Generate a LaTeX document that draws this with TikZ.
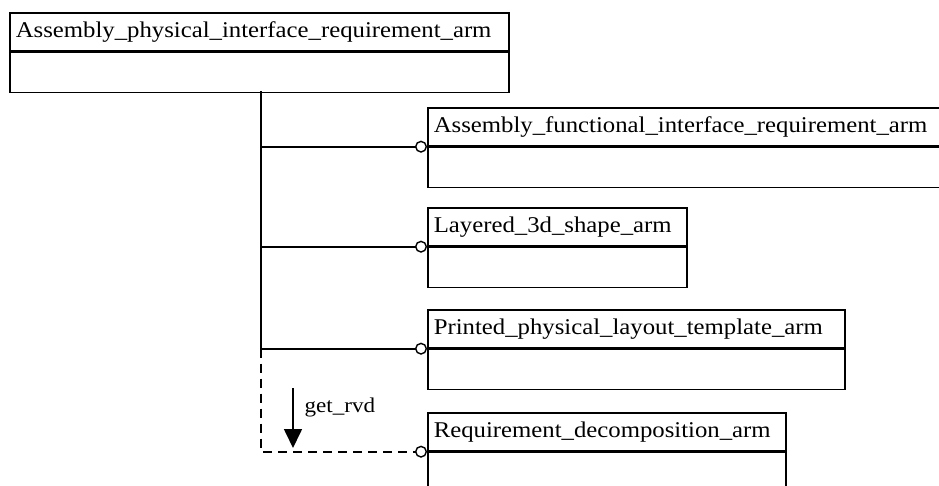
\documentclass[tikz,border=0pt]{standalone}
\usepackage{fontspec}
\setmainfont{Liberation Serif}[FakeStretch=1.1]
\usetikzlibrary{positioning,arrows.meta}

\begin{document}
\begin{tikzpicture}[
  x=1pt, y=-1pt,
  font=\fontsize{22.5}{26}\selectfont,
  head/.style={draw, line width=1.7pt, anchor=north west, align=left,
    minimum width=#1, text width=#1-12pt, inner xsep=6pt, inner ysep=2pt,
    minimum height=38pt},
  body/.style={draw, line width=1.7pt, minimum width=#1, minimum height=40pt,
    inner sep=0pt},
  link/.style={line width=1.7pt, -{Circle[open, length=12pt, width=12pt, line width=1.4pt]}},
  gap/.style={dash pattern=on 9pt off 6pt},
  lbl/.style={anchor=base west, font=\fontsize{21}{24}\selectfont},
  arr/.style={line width=1.7pt, -{Triangle[length=19pt, width=18pt]}},
]
\useasboundingbox (0,0) rectangle (939,486);

% Supertype entity.
\node[head=499pt] (apirh) at (9,12) {Assembly\_physical\_interface\_requirement\_arm};
\node[body=499pt, below=0pt of apirh] (apirb) {};

% Referenced entities.
\node[head=518pt] (afirh) at (427,107) {Assembly\_functional\_interface\_requirement\_arm};
\node[body=518pt, below=0pt of afirh] (afirb) {};

\node[head=259pt] (l3sh) at (427,207) {Layered\_3d\_shape\_arm};
\node[body=259pt, below=0pt of l3sh] (l3sb) {};

\node[head=417pt] (pplh) at (427,309) {Printed\_physical\_layout\_template\_arm};
\node[body=417pt, below=0pt of pplh] (pplb) {};

\node[head=358pt] (rdh) at (427,412) {Requirement\_decomposition\_arm};
\node[body=358pt, minimum height=60pt, below=0pt of rdh] (rdb) {};

% Trunk and branches.
\coordinate (trunk) at (261,91);
\coordinate (bend) at (trunk |- pplh.south west);
\draw[line width=1.7pt] (trunk) -- (bend);
\draw[link] (trunk |- afirh.south west) -- (afirh.south west);
\draw[link] (trunk |- l3sh.south west) -- (l3sh.south west);
\draw[link] (bend) -- (pplh.south west);
\draw[link, gap] (bend) |- (rdh.south west);

% Inverse attribute.
\coordinate (rvdtop) at (293,388);
\coordinate (rvdtip) at (293,448);
\draw[arr] (rvdtop) -- (rvdtip);
\node[lbl] (rvdlbl) at (301,412) {get\_rvd};

\end{tikzpicture}
\end{document}
